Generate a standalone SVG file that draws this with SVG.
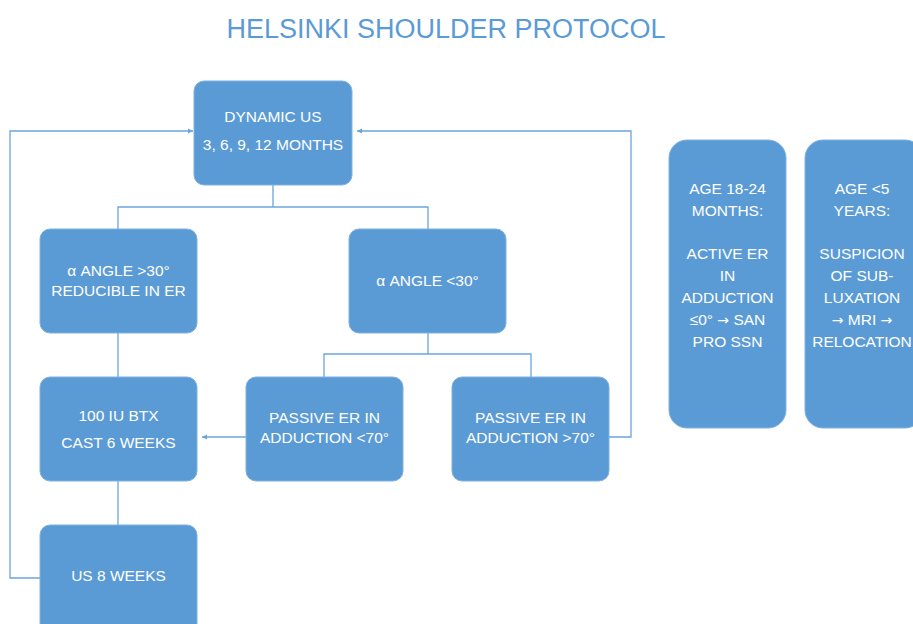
<svg xmlns="http://www.w3.org/2000/svg" width="913" height="624" viewBox="0 0 913 624">
<style>
.box{fill:#5B9BD5;stroke:#7FB1E0;stroke-width:1}
.t{font-family:"Liberation Sans",Arial,sans-serif;font-size:15.5px;fill:#FFFFFF;text-anchor:middle}
.ar{font-family:"DejaVu Sans",sans-serif;font-size:14px}
.title{font-family:"Liberation Sans",Arial,sans-serif;font-size:27px;fill:#5B9BD5;text-anchor:middle}
.c{fill:none;stroke:#6AA6DC;stroke-width:1.3}
</style>
<defs>
<marker id="ah" markerWidth="6" markerHeight="6" refX="5" refY="3" orient="auto" markerUnits="userSpaceOnUse">
<path d="M0,0.5 L5,3 L0,5.5 Z" fill="#6AA6DC"/>
</marker>
</defs>
<rect width="913" height="624" fill="#FFFFFF"/>
<text class="title" x="446" y="38">HELSINKI SHOULDER PROTOCOL</text>
<g id="connectors">
<path class="c" d="M273,185 V207 M118,229 V207 H428 V229"/>
<path class="c" d="M428,333 V354 M324,377 V354 H531 V377"/>
<path class="c" d="M118,333 V377"/>
<path class="c" d="M118,481 V525"/>
<path class="c" d="M40,578 H10 V131 H193" marker-end="url(#ah)"/>
<path class="c" d="M609,437 H631 V131 H357" marker-end="url(#ah)"/>
<path class="c" d="M246,437 H202" marker-end="url(#ah)"/>
</g>
<g id="dynamic-us">
<rect class="box" x="194" y="81" width="158" height="104" rx="10"/>
<text class="t" x="273" y="122">DYNAMIC US</text>
<text class="t" x="273" y="150">3, 6, 9, 12 MONTHS</text>
</g>
<g id="alpha-gt30">
<rect class="box" x="40" y="229" width="157" height="104" rx="10"/>
<text class="t" x="118.5" y="276">α ANGLE &gt;30°</text>
<text class="t" x="118.5" y="296">REDUCIBLE IN ER</text>
</g>
<g id="alpha-lt30">
<rect class="box" x="349" y="229" width="157" height="104" rx="10"/>
<text class="t" x="427.5" y="286">α ANGLE &lt;30°</text>
</g>
<g id="btx">
<rect class="box" x="40" y="377" width="157" height="104" rx="10"/>
<text class="t" x="118.5" y="421">100 IU BTX</text>
<text class="t" x="118.5" y="448">CAST 6 WEEKS</text>
</g>
<g id="passive-lt70">
<rect class="box" x="246" y="377" width="157" height="104" rx="10"/>
<text class="t" x="324.5" y="423">PASSIVE ER IN</text>
<text class="t" x="324.5" y="443">ADDUCTION &lt;70°</text>
</g>
<g id="passive-gt70">
<rect class="box" x="452" y="377" width="157" height="104" rx="10"/>
<text class="t" x="530.5" y="423">PASSIVE ER IN</text>
<text class="t" x="530.5" y="443">ADDUCTION &gt;70°</text>
</g>
<g id="us-8-weeks">
<rect class="box" x="40" y="525" width="157" height="110" rx="10"/>
<text class="t" x="118.5" y="581">US 8 WEEKS</text>
</g>
<g id="age-18-24">
<rect class="box" x="669" y="140" width="117" height="288" rx="18"/>
<text class="t" x="727.5" y="194">AGE 18-24</text>
<text class="t" x="727.5" y="216">MONTHS:</text>
<text class="t" x="727.5" y="259">ACTIVE ER</text>
<text class="t" x="727.5" y="281">IN</text>
<text class="t" x="727.5" y="303">ADDUCTION</text>
<text class="t" x="727.5" y="325">≤0° <tspan class="ar">→</tspan> SAN</text>
<text class="t" x="727.5" y="347">PRO SSN</text>
</g>
<g id="age-lt5">
<rect class="box" x="805" y="140" width="118" height="288" rx="18"/>
<text class="t" x="862" y="194">AGE &lt;5</text>
<text class="t" x="862" y="216">YEARS:</text>
<text class="t" x="862" y="259">SUSPICION</text>
<text class="t" x="862" y="281">OF SUB-</text>
<text class="t" x="862" y="303">LUXATION</text>
<text class="t" x="862" y="325"><tspan class="ar">→</tspan> MRI <tspan class="ar">→</tspan></text>
<text class="t" x="862" y="347">RELOCATION</text>
</g>
</svg>
